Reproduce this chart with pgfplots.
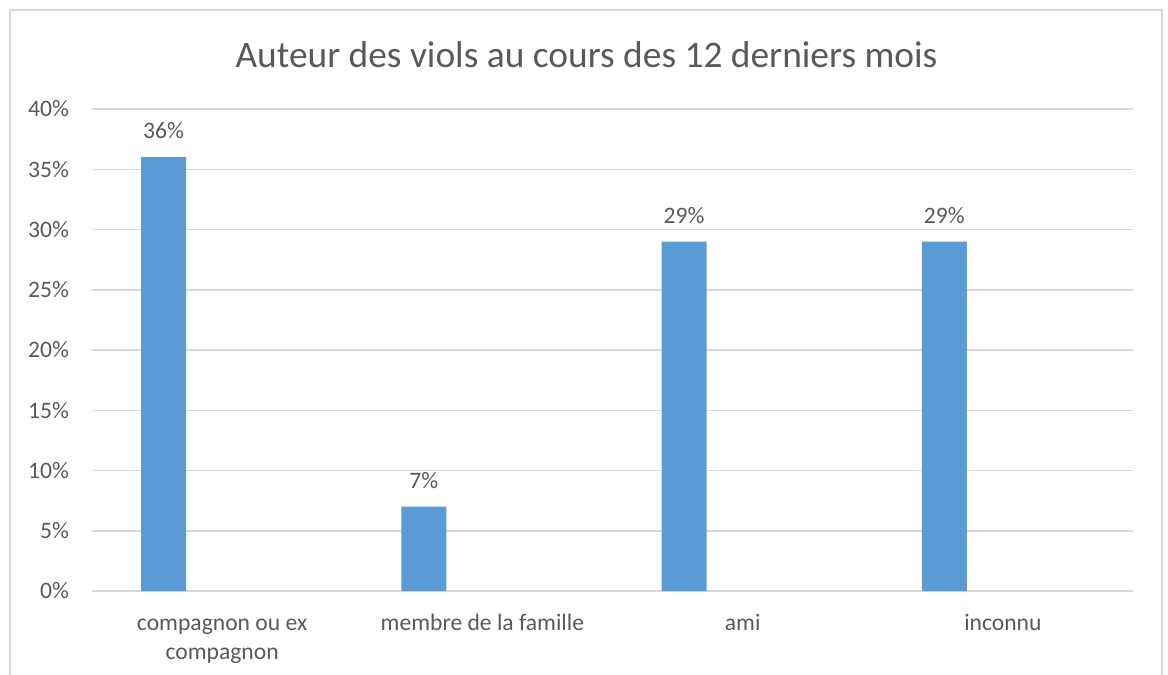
\documentclass[border=0pt]{standalone}
\usepackage{fontspec}
\setmainfont{Carlito}
\usepackage{pgfplots}
\pgfplotsset{compat=1.18}
\definecolor{barblue}{HTML}{5B9BD5}
\definecolor{txtgray}{HTML}{595959}
\definecolor{gridgray}{HTML}{D9D9D9}
\begin{document}
\begin{tikzpicture}
\path[use as bounding box] (0pt,0pt) rectangle (584pt,337.5pt);
\draw[gridgray, line width=0.9pt] (5pt,0pt) -- (5pt,332.5pt) -- (581pt,332.5pt) -- (581pt,0pt);
\node[txtgray, font=\fontsize{18.7}{22}\selectfont] at (293.25pt,310pt) {Auteur des viols au cours des 12 derniers mois};
\begin{axis}[
  at={(46pt,42pt)}, anchor=south west,
  scale only axis,
  width=520.5pt, height=241pt,
  xmin=-0.5, xmax=3.5,
  ymin=0, ymax=40,
  ytick={0,5,...,40},
  xtick={0,1,2,3},
  xticklabels={{\strut compagnon ou ex\\compagnon},{\strut membre de la famille},{\strut ami},{\strut inconnu}},
  xticklabel style={align=center, font=\fontsize{11.8}{14.5}\selectfont, text=txtgray, yshift=-6pt},
  yticklabel={\pgfmathprintnumber{\tick}\%},
  yticklabel style={font=\fontsize{11.8}{14}\selectfont, text=txtgray, xshift=-8pt},
  /pgf/number format/assume math mode=true,
  axis line style={draw=none},
  major tick length=0pt,
  tick style={draw=none},
  ymajorgrids,
  grid style={gridgray, line width=0.75pt},
  ybar,
  bar width=0.173,
  bar shift=-0.225,
  nodes near coords={\pgfmathprintnumber{\pgfplotspointmeta}\%},
  nodes near coords style={font=\fontsize{11.8}{14}\selectfont, text=txtgray, yshift=5.5pt},
  clip=false,
]
\addplot[fill=barblue, draw=none] coordinates {(0,36) (1,7) (2,29) (3,29)};
\end{axis}
\end{tikzpicture}
\end{document}
